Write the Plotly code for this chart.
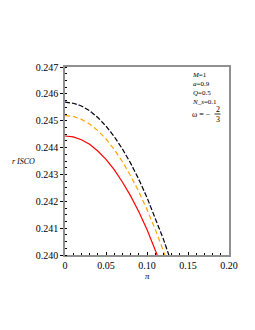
import plotly.graph_objects as go

x_vals = [0.0, 0.01, 0.02, 0.03, 0.04, 0.05, 0.06, 0.07, 0.08, 0.09, 0.10, 0.11, 0.12, 0.13]
r_black = [0.24569, 0.24565, 0.24555, 0.24537, 0.24512, 0.24480, 0.24441, 0.24395,
           0.24342, 0.24282, 0.24214, 0.24140, 0.24059, 0.23970]
r_orange = [0.24519, 0.24516, 0.24505, 0.24488, 0.24463, 0.24432, 0.24393, 0.24348,
            0.24295, 0.24236, 0.24169, 0.24096, 0.24015, 0.23927]
r_red = [0.24443, 0.24440, 0.24429, 0.24412, 0.24387, 0.24356, 0.24318, 0.24272,
         0.24220, 0.24161, 0.24095, 0.24022, 0.23942, 0.23850]

x_ticks = [0, 0.05, 0.10, 0.15, 0.20]
x_ticklabels = ["0", "0.05", "0.10", "0.15", "0.20"]
y_ticks = [0.240, 0.241, 0.242, 0.243, 0.244, 0.245, 0.246, 0.247]
y_ticklabels = ["0.240", "0.241", "0.242", "0.243", "0.244", "0.245", "0.246", "0.247"]

param_lines = ["<i>M</i>=1", "<i>a</i>=0.9", "<i>Q</i>=0.5", "<i>N_s</i>=0.1"]

serif = "Liberation Serif"

PW, PH = 164.0, 188.0  # plot area size in px
L, T = 57, 59

def px(xp):
    return (xp - 65) / PW

def py(yp):
    return (255 - yp) / PH

fig = go.Figure()
fig.add_trace(go.Scatter(x=x_vals, y=r_red, mode="lines",
                         line=dict(color="#ff0000", width=1.2), showlegend=False))
fig.add_trace(go.Scatter(x=x_vals, y=r_orange, mode="lines",
                         line=dict(color="#ffa500", width=1.2, dash="5px,3px"), showlegend=False))
fig.add_trace(go.Scatter(x=x_vals, y=r_black, mode="lines",
                         line=dict(color="#000000", width=1.2, dash="5px,2px"), showlegend=False))
fig.add_trace(go.Scatter(x=x_vals, y=r_black, mode="lines",
                         line=dict(color="#4040d0", width=1.2, dash="1px,13px"), showlegend=False))

fig.update_layout(
    width=255, height=330,
    margin=dict(l=L, r=255 - L - int(PW), t=T, b=330 - T - int(PH)),
    paper_bgcolor="white", plot_bgcolor="white",
    font=dict(family=serif, size=10, color="black"),
    xaxis=dict(range=[0, 0.20], tickvals=x_ticks, ticktext=x_ticklabels,
               showgrid=False, zeroline=False, showline=True, mirror=True,
               linecolor="#909090", linewidth=1.5, ticks="inside", ticklen=3,
               tickcolor="black", tickfont=dict(family=serif, size=10),
               minor=dict(dtick=0.01, ticks="inside", ticklen=2, tickcolor="black")),
    yaxis=dict(range=[0.240, 0.247], tickvals=y_ticks, ticktext=y_ticklabels,
               showgrid=False, zeroline=False, showline=True, mirror=True,
               linecolor="#909090", linewidth=1.5, ticks="outside", ticklen=3,
               tickcolor="black", tickfont=dict(family=serif, size=10),
               minor=dict(dtick=0.00025, ticks="inside", ticklen=2, tickcolor="black")),
)

# axis titles
fig.add_annotation(text="<i>r ISCO</i>", xref="paper", yref="paper",
                   x=px(37), y=py(161.7), xanchor="right", yanchor="middle",
                   showarrow=False, font=dict(family=serif, size=8))
fig.add_annotation(text="<i>π</i>", xref="paper", yref="paper",
                   x=px(147), y=py(269), xanchor="center", yanchor="top",
                   showarrow=False, font=dict(family=serif, size=9))

# parameter text (one multi-line block)
fig.add_annotation(text="<br>".join(param_lines), xref="paper", yref="paper",
                   x=px(190), y=py(69), xanchor="left", yanchor="top", align="left",
                   showarrow=False, font=dict(family=serif, size=7))
fig.add_annotation(text="ω = −", xref="paper", yref="paper",
                   x=px(190), y=py(114), xanchor="left", yanchor="middle",
                   showarrow=False, font=dict(family=serif, size=8))
fig.add_annotation(text="2<br>3", xref="paper", yref="paper",
                   x=px(217.5), y=py(114), xanchor="center", yanchor="middle", align="center",
                   showarrow=False, font=dict(family=serif, size=8))
fig.add_shape(type="line", xref="paper", yref="paper",
              x0=px(214.5), x1=px(220.5), y0=py(114), y1=py(114),
              line=dict(color="black", width=0.8))

fig.write_html("out.html")
